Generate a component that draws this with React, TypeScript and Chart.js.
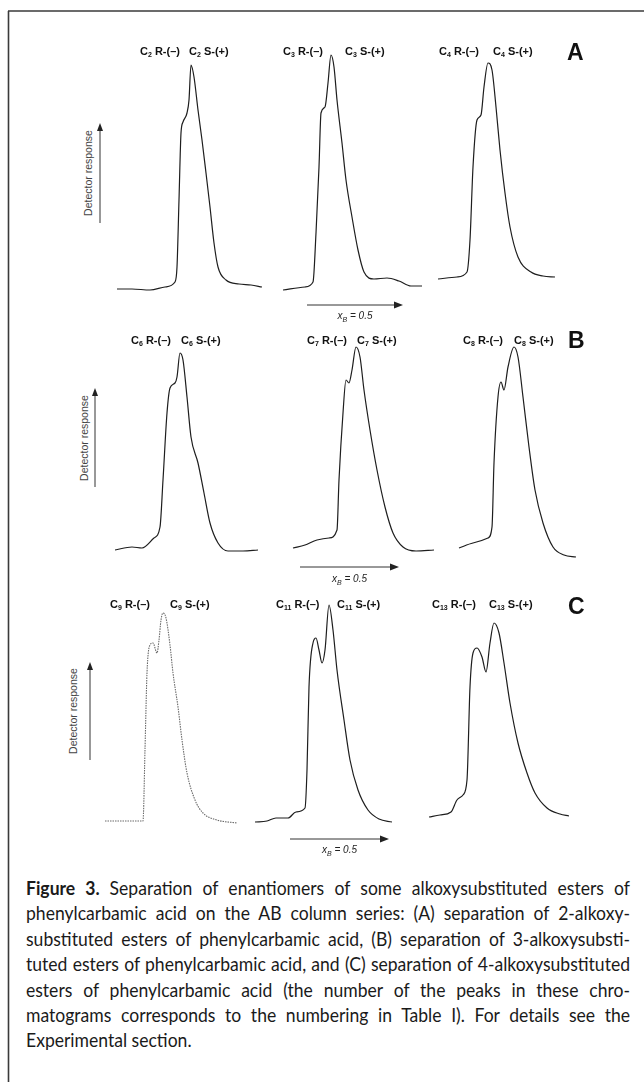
import React, { useEffect, useRef } from "react";
import { Chart, registerables } from "chart.js";
Chart.register(...registerables);

// ---------- data (time in a.u., detector response in a.u.) ----------
// Row A : 2-alkoxy substituted
const a1Time = [7, 22, 40, 55, 65, 67, 69, 71, 73, 77, 79, 81, 84, 88, 92, 96, 100, 104, 108, 116, 129, 141, 152];
const a1Resp = [11, 11, 10, 13, 18, 33, 100, 167, 178, 187, 200, 235, 223, 190, 160, 127, 93, 57, 33, 20, 16, 15, 13];
const a2Time = [7, 29, 37, 40, 43, 45, 49, 52, 55, 58, 61, 66, 70, 76, 82, 88, 98, 111, 123, 135, 146];
const a2Resp = [10, 13, 18, 67, 133, 187, 193, 217, 245, 233, 200, 157, 120, 83, 50, 28, 21, 22, 19, 14, 14];
const a3Time = [6, 25, 35, 38, 41, 45, 49, 52, 56, 60, 64, 68, 73, 78, 86, 99, 111, 123];
const a3Resp = [21, 23, 28, 60, 133, 180, 185, 213, 237, 230, 193, 150, 107, 73, 43, 28, 24, 23];
// Row B : 3-alkoxy substituted
const b1Time = [5, 22, 32, 44, 50, 53, 57, 60, 65, 67, 70, 73, 77, 81, 88, 94, 100, 108, 118, 133, 148];
const b1Resp = [20, 23, 22, 32, 43, 90, 157, 182, 187, 193, 217, 210, 173, 133, 107, 77, 47, 27, 19, 19, 20];
const b2Time = [5, 17, 29, 41, 49, 51, 55, 58, 61, 64, 68, 72, 76, 82, 89, 97, 105, 115, 128, 146];
const b2Resp = [22, 25, 30, 32, 40, 90, 157, 190, 187, 200, 223, 213, 180, 140, 100, 63, 37, 23, 19, 20];
const b3Time = [5, 19, 34, 38, 40, 44, 47, 50, 54, 60, 64, 69, 75, 81, 89, 99, 110, 122];
const b3Resp = [22, 27, 32, 43, 107, 173, 188, 180, 203, 223, 213, 173, 123, 80, 47, 23, 15, 13];
// Row C : 4-alkoxy substituted
const c1Time = [5, 43, 45, 47, 50, 53, 57, 59, 61, 63, 66, 70, 73, 78, 82, 87, 95, 103, 117, 137];
const c1Resp = [9, 9, 80, 157, 185, 187, 177, 190, 210, 217, 212, 185, 157, 123, 90, 57, 30, 17, 10, 7];
const c2Time = [5, 17, 26, 38, 46, 55, 57, 59, 63, 66, 69, 72, 75, 79, 83, 87, 94, 100, 108, 118, 129, 142];
const c2Resp = [8, 9, 12, 12, 18, 22, 60, 143, 187, 192, 180, 167, 180, 225, 200, 160, 110, 70, 40, 20, 11, 8];
const c3Time = [5, 16, 27, 33, 39, 43, 46, 49, 53, 58, 62, 66, 70, 75, 80, 86, 94, 103, 111, 123, 136, 145];
const c3Resp = [13, 15, 18, 30, 35, 50, 143, 177, 182, 173, 158, 187, 207, 197, 167, 127, 87, 57, 37, 22, 16, 14];

const rowLetters = ["A", "B", "C"];
const carbonR = [["2", "3", "4"], ["6", "7", "8"], ["9", "11", "13"]];
const axisTitle = "Detector response";
const mobilePhase = "0.5";

const captionLines = [
  "Separation of enantiomers of some alkoxysubstituted esters of",
  "phenylcarbamic acid on the AB column series: (A) separation of 2-alkoxy-",
  "substituted esters of phenylcarbamic acid, (B) separation of 3-alkoxysubsti-",
  "tuted esters of phenylcarbamic acid, and (C) separation of 4-alkoxysubstituted",
  "esters of phenylcarbamic acid (the number of the peaks in these chro-",
  "matograms corresponds to the numbering in Table I). For details see the",
  "Experimental section.",
];

// ---------- layout ----------
const PW = 160;
const rows = [
  { top: 40, h: 260, lefts: [110, 276, 432] },
  { top: 330, h: 240, lefts: [110, 288, 454] },
  { top: 600, h: 230, lefts: [100, 250, 424] },
];
const series = [
  [[a1Time, a1Resp], [a2Time, a2Resp], [a3Time, a3Resp]],
  [[b1Time, b1Resp], [b2Time, b2Resp], [b3Time, b3Resp]],
  [[c1Time, c1Resp], [c2Time, c2Resp], [c3Time, c3Resp]],
];
const labelPos = [
  { y: 52, pos: [[140, 189], [283, 345], [439, 493]], big: [576, 52] },
  { y: 341, pos: [[131, 181], [307, 357], [463, 514]], big: [577, 340] },
  { y: 605, pos: [[110, 170], [276, 337], [432, 489]], big: [577, 606] },
];
const detPos = [
  { x: 88, ax: 100, y1: 123, y2: 223 },
  { x: 84, ax: 95, y1: 388, y2: 487 },
  { x: 73, ax: 90, y1: 662, y2: 760 },
];
const xbPos = [
  { x1: 307, x2: 403, y: 305, ty: 316 },
  { x1: 300, x2: 399, y: 567, ty: 579 },
  { x1: 290, x2: 389, y: 839, ty: 850 },
];

function Panel(props: { time: number[]; resp: number[]; left: number; top: number; h: number; dotted: boolean }) {
  const ref = useRef<HTMLCanvasElement | null>(null);
  const { time, resp, left, top, h, dotted } = props;
  useEffect(() => {
    if (!ref.current) return;
    const chart = new Chart(ref.current, {
      type: "line",
      data: {
        datasets: [
          {
            data: time.map((t, i) => ({ x: t, y: resp[i] })),
            borderColor: dotted ? "#6a6a6a" : "#1e1e1e",
            borderWidth: dotted ? 1.1 : 1.2,
            borderDash: dotted ? [1.5, 1] : [],
            pointRadius: 0,
            cubicInterpolationMode: "monotone",
            fill: false,
            clip: false as any,
          },
        ],
      },
      options: {
        responsive: false,
        maintainAspectRatio: false,
        animation: false,
        events: [],
        layout: { padding: 0 },
        plugins: { legend: { display: false }, tooltip: { enabled: false } },
        scales: {
          x: { type: "linear", min: 0, max: PW, display: false },
          y: { type: "linear", min: 0, max: h, display: false },
        },
      },
    });
    return () => chart.destroy();
  }, []);
  return (
    <canvas
      ref={ref}
      width={PW}
      height={h}
      style={{ position: "absolute", left, top, width: PW, height: h }}
    />
  );
}

const labelFont = "'Liberation Sans', Arial, sans-serif";

function measureScale(): number {
  try {
    const c = document.createElement("canvas");
    const ctx = c.getContext("2d")!;
    let maxW = 0;
    captionLines.slice(0, 6).forEach((l, i) => {
      ctx.font = "19px Lato";
      let w = ctx.measureText(l).width;
      if (i === 0) {
        ctx.font = "bold 19px Lato";
        w += ctx.measureText("Figure 3. ").width;
      }
      maxW = Math.max(maxW, w);
    });
    return Math.min(0.95, 598 / maxW);
  } catch (e) {
    return 0.82;
  }
}

export default function App() {
  const scale = measureScale();
  const capW = 604;
  return (
    <div style={{ position: "absolute", left: 0, top: 0, width: 644, height: 1086, background: "#fff", overflow: "hidden" }}>
      <svg width={644} height={1086} style={{ position: "absolute", left: 0, top: 0 }}>
        <line x1={8} y1={11} x2={644} y2={11} stroke="#3a3a3a" strokeWidth={1.6} />
        <line x1={8.5} y1={11} x2={8.5} y2={1082} stroke="#3a3a3a" strokeWidth={1.6} />
        {detPos.map((d, i) => (
          <g key={"d" + i}>
            <line x1={d.ax} y1={d.y2} x2={d.ax} y2={d.y1 + 6} stroke="#333" strokeWidth={1} />
            <polygon points={`${d.ax},${d.y1} ${d.ax - 3},${d.y1 + 8} ${d.ax + 3},${d.y1 + 8}`} fill="#222" />
          </g>
        ))}
        {xbPos.map((a, i) => (
          <g key={"x" + i}>
            <line x1={a.x1} y1={a.y} x2={a.x2 - 6} y2={a.y} stroke="#333" strokeWidth={1} />
            <polygon points={`${a.x2},${a.y} ${a.x2 - 9},${a.y - 3.5} ${a.x2 - 9},${a.y + 3.5}`} fill="#222" />
          </g>
        ))}
      </svg>

      {rows.map((r, ri) =>
        r.lefts.map((left, pi) => (
          <Panel
            key={ri + "-" + pi}
            time={series[ri][pi][0]}
            resp={series[ri][pi][1]}
            left={left}
            top={r.top}
            h={r.h}
            dotted={ri === 2 && pi === 0}
          />
        ))
      )}

      {labelPos.map((lp, ri) => (
        <React.Fragment key={"l" + ri}>
          {lp.pos.map((p, pi) => (
            <React.Fragment key={pi}>
              <span style={{ position: "absolute", left: p[0], top: lp.y - 7, font: `bold 11px ${labelFont}`, color: "#111", whiteSpace: "nowrap" }}>
                C<sub style={{ fontSize: 7, verticalAlign: "-2px" }}>{carbonR[ri][pi]}</sub> R-(–)
              </span>
              <span style={{ position: "absolute", left: p[1], top: lp.y - 7, font: `bold 11px ${labelFont}`, color: "#111", whiteSpace: "nowrap" }}>
                C<sub style={{ fontSize: 7, verticalAlign: "-2px" }}>{carbonR[ri][pi]}</sub> S-(+)
              </span>
            </React.Fragment>
          ))}
          <span style={{ position: "absolute", left: lp.big[0] - 9, top: lp.big[1] - 13, font: `900 23px ${labelFont}`, color: "#111" }}>
            {rowLetters[ri]}
          </span>
        </React.Fragment>
      ))}

      {detPos.map((d, i) => (
        <div
          key={"dt" + i}
          style={{
            position: "absolute",
            left: d.x - 60,
            top: (d.y1 + d.y2) / 2 - 7,
            width: 120,
            height: 14,
            textAlign: "center",
            font: `10.5px ${labelFont}`,
            color: "#444",
            transform: "rotate(-90deg)",
            whiteSpace: "nowrap",
            lineHeight: "14px",
          }}
        >
          {axisTitle}
        </div>
      ))}

      {xbPos.map((a, i) => (
        <div
          key={"xt" + i}
          style={{
            position: "absolute",
            left: (a.x1 + a.x2) / 2 - 50,
            top: a.ty - 7,
            width: 100,
            textAlign: "center",
            font: `italic 10px ${labelFont}`,
            color: "#222",
            whiteSpace: "nowrap",
            lineHeight: "14px",
          }}
        >
          x<sub style={{ fontSize: 7, verticalAlign: "-3px" }}>B</sub> = {mobilePhase}
        </div>
      ))}

      {captionLines.map((line, i) => (
        <div
          key={"c" + i}
          style={{
            position: "absolute",
            left: 26,
            top: 888 + i * 25.4 - 12,
            width: capW / scale,
            transform: `scaleX(${scale})`,
            transformOrigin: "0 0",
            font: "19px Lato",
            lineHeight: "24px",
            color: "#1a1a1a",
            textAlign: i < 6 ? "justify" : "left",
            textAlignLast: i < 6 ? "justify" : "left",
            whiteSpace: "normal",
          } as any}
        >
          {i === 0 ? <b>Figure 3. </b> : null}
          {line}
        </div>
      ))}
    </div>
  );
}
